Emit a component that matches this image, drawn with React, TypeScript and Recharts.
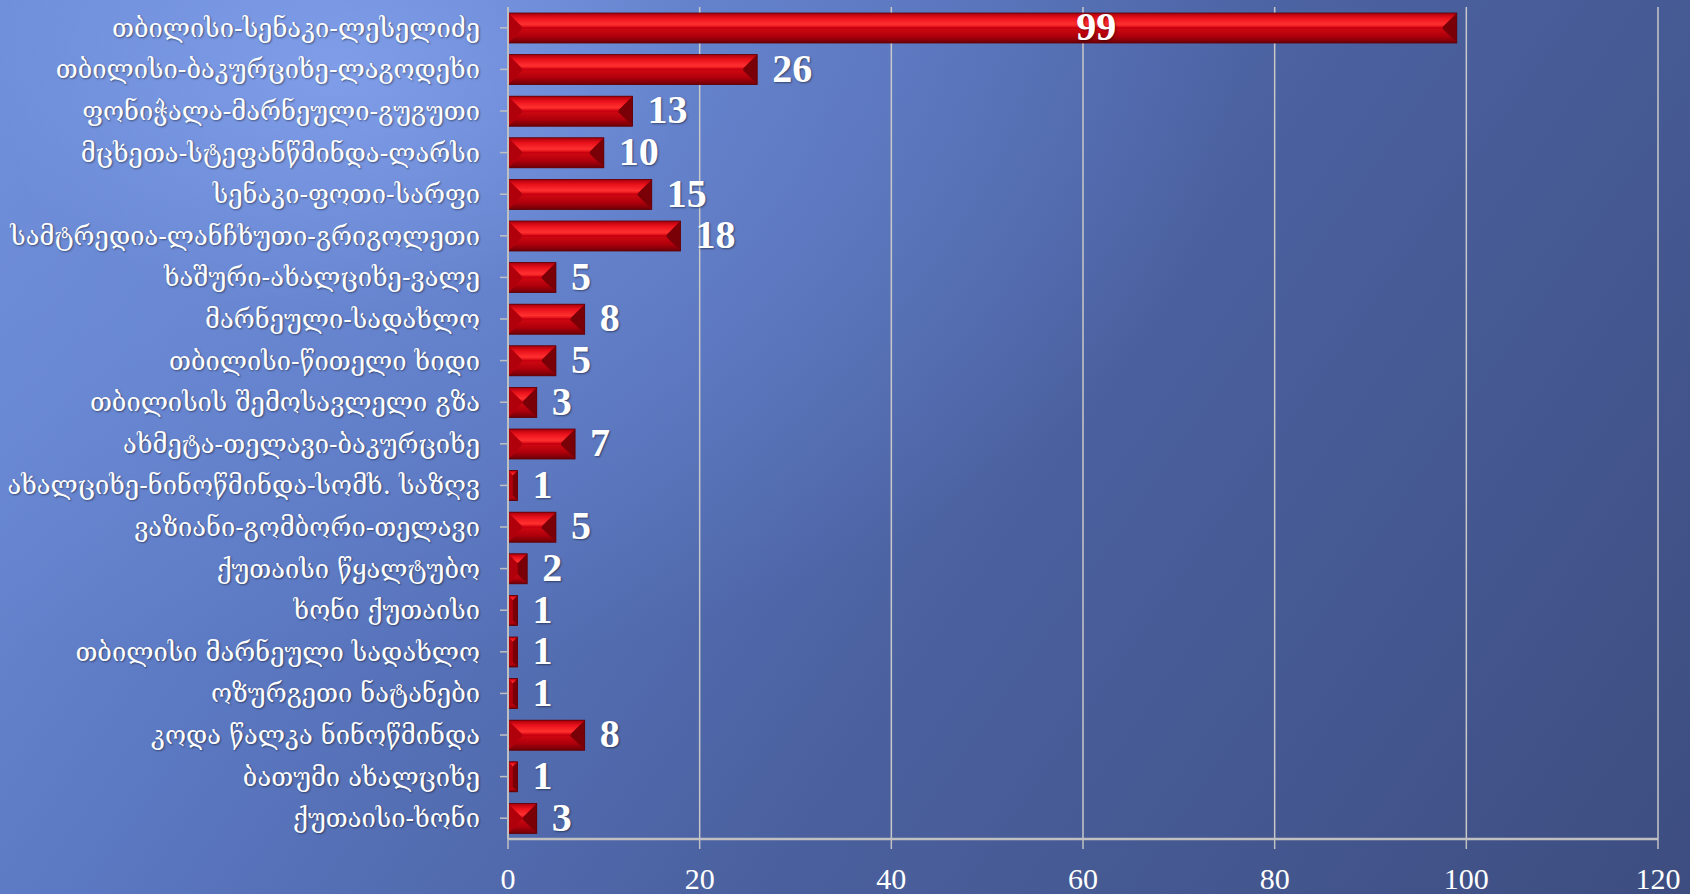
import React from "react";
import { BarChart, Bar, XAxis, YAxis, CartesianGrid, LabelList } from "recharts";

const routes = [
  "თბილისი-სენაკი-ლესელიძე",
  "თბილისი-ბაკურციხე-ლაგოდეხი",
  "ფონიჭალა-მარნეული-გუგუთი",
  "მცხეთა-სტეფანწმინდა-ლარსი",
  "სენაკი-ფოთი-სარფი",
  "სამტრედია-ლანჩხუთი-გრიგოლეთი ",
  "ხაშური-ახალციხე-ვალე",
  "მარნეული-სადახლო",
  "თბილისი-წითელი ხიდი",
  "თბილისის შემოსავლელი გზა",
  "ახმეტა-თელავი-ბაკურციხე",
  "ახალციხე-ნინოწმინდა-სომხ. საზღვ",
  "ვაზიანი-გომბორი-თელავი",
  "ქუთაისი წყალტუბო",
  "ხონი ქუთაისი",
  "თბილისი მარნეული  სადახლო",
  "ოზურგეთი ნატანები",
  "კოდა წალკა ნინოწმინდა",
  "ბათუმი ახალციხე",
  "ქუთაისი-ხონი",
];
const counts = [99, 26, 13, 10, 15, 18, 5, 8, 5, 3, 7, 1, 5, 2, 1, 1, 1, 8, 1, 3];
const xTicks = [0, 20, 40, 60, 80, 100, 120];

const data = routes.map((route, i) => ({ route, count: counts[i] }));
const maxCount = Math.max(...counts);

const BevelBar = (props: any) => {
  const { x, y, width: w, height: h } = props;
  if (!w || w <= 0) return null;
  const b = Math.min(h / 2, w / 2, 14);
  return (
    <g>
      <rect x={x} y={y} width={w} height={h} fill="#c80010" />
      <polygon
        points={`${x},${y} ${x + w},${y} ${x + w - b},${y + b} ${x + b},${y + b}`}
        fill="url(#barTop)"
      />
      <polygon
        points={`${x},${y + h} ${x + w},${y + h} ${x + w - b},${y + h - b} ${x + b},${y + h - b}`}
        fill="url(#barBottom)"
      />
      <polygon
        points={`${x},${y} ${x + b},${y + b} ${x + b},${y + h - b} ${x},${y + h}`}
        fill="#b0000c"
      />
      <polygon
        points={`${x + w},${y} ${x + w - b},${y + b} ${x + w - b},${y + h - b} ${x + w},${y + h}`}
        fill="#7a0008"
      />
      <rect x={x} y={y} width={w} height={h} fill="none" stroke="#5a0006" strokeWidth={0.8} />
    </g>
  );
};

const ValueLabel = (props: any) => {
  const { x, y, width, height, value } = props;
  const inside = value === maxCount;
  const tx = inside ? x + width * 0.62 : x + width + 15;
  return (
    <text
      x={tx}
      y={y + height / 2 + 3}
      textAnchor={inside ? "middle" : "start"}
      dominantBaseline="middle"
      fill="#ffffff"
      fontFamily="'Liberation Serif', 'DejaVu Serif', serif"
      fontWeight="bold"
      fontSize={40}
      style={{ textShadow: "1px 1px 2px rgba(0,0,0,0.45)" }}
    >
      {value}
    </text>
  );
};

export default function App() {
  return (
    <div
      style={{
        position: "fixed",
        top: 0,
        left: 0,
        width: 1690,
        height: 894,
        background:
          "radial-gradient(ellipse 900px 600px at 20% 8%, rgba(130,160,235,0.9) 0%, rgba(110,140,215,0.5) 40%, rgba(90,115,185,0) 100%), linear-gradient(125deg, #7393de 0%, #5b78c2 30%, #4a609e 60%, #3d4d80 100%)",
      }}
    >
      <BarChart
        width={1690}
        height={894}
        data={data}
        layout="vertical"
        margin={{ top: 7, right: 32, bottom: 0, left: 0 }}
      >
        <defs>
          <linearGradient id="barTop" x1="0" y1="0" x2="0" y2="1">
            <stop offset="0%" stopColor="#a8000c" />
            <stop offset="35%" stopColor="#e8101a" />
            <stop offset="80%" stopColor="#ff3030" />
            <stop offset="100%" stopColor="#e01018" />
          </linearGradient>
          <linearGradient id="barBottom" x1="0" y1="0" x2="0" y2="1">
            <stop offset="0%" stopColor="#cc0810" />
            <stop offset="50%" stopColor="#b0000c" />
            <stop offset="100%" stopColor="#6e0006" />
          </linearGradient>
        </defs>
        <CartesianGrid horizontal={false} stroke="#c8c8c8" strokeWidth={1.5} />
        <XAxis
          type="number"
          domain={[0, 120]}
          ticks={xTicks}
          height={55}
          axisLine={{ stroke: "#c0c0c0", strokeWidth: 2.5 }}
          tickLine={{ stroke: "#c0c0c0", strokeWidth: 1.5 }}
          tickSize={10}
          tickMargin={19}
          tick={{
            fill: "#ffffff",
            fontSize: 30,
            fontFamily: "'Liberation Serif', 'DejaVu Serif', serif",
          }}
        />
        <YAxis
          type="category"
          dataKey="route"
          width={508}
          interval={0}
          axisLine={{ stroke: "#c0c0c0", strokeWidth: 2 }}
          tickLine={{ stroke: "#c0c0c0", strokeWidth: 1.5 }}
          tickSize={8}
          tickMargin={20}
          tick={{
            fill: "#ffffff",
            fontSize: 25.5,
            fontFamily: "'DejaVu Serif', 'DejaVu Sans', serif",
            style: { textShadow: "1px 1px 2px rgba(0,0,0,0.45)" },
          }}
        />
        <Bar dataKey="count" barSize={30} shape={<BevelBar />} isAnimationActive={false}>
          <LabelList dataKey="count" content={<ValueLabel />} />
        </Bar>
      </BarChart>
    </div>
  );
}
